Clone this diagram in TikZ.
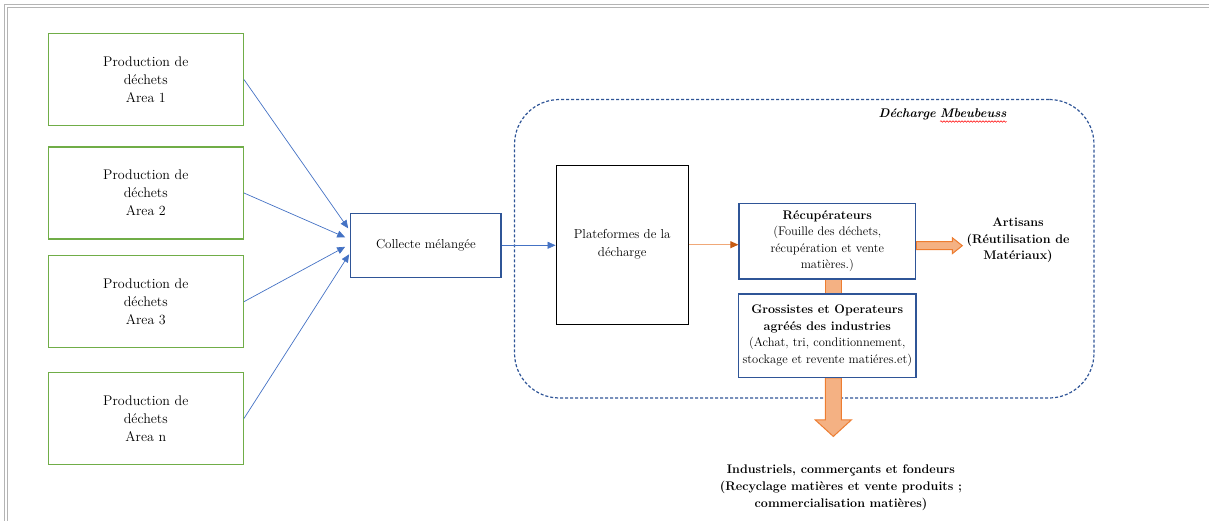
\documentclass[tikz,border=0pt]{standalone}
\usetikzlibrary{arrows.meta,decorations.pathmorphing,backgrounds,calc}

\definecolor{prodgreen}{HTML}{70AD47}
\definecolor{boxblue}{HTML}{2F5597}
\definecolor{flowblue}{HTML}{4472C4}
\definecolor{orfill}{HTML}{F4B183}
\definecolor{orline}{HTML}{ED7D31}
\definecolor{ordark}{HTML}{C55A11}
\definecolor{orthin}{HTML}{F0A878}
\definecolor{pagegray}{HTML}{B4B4B4}

\tikzset{
  basefont/.style={font=\fontsize{12.5}{16.5}\selectfont},
  boldtxt/.style={font=\fontsize{12.5}{16.5}\selectfont\bfseries, align=center},
  prodbox/.style={draw=prodgreen, line width=1.3pt, minimum width=195pt,
    minimum height=92pt, align=center, font=\fontsize{14}{18}\selectfont},
  bluebox/.style={draw=boxblue, line width=1.2pt, align=center, inner sep=1pt},
  platbox/.style={draw=black, line width=1.3pt, minimum width=132pt,
    minimum height=159pt, align=center, font=\fontsize{13}{18}\selectfont},
  container/.style={draw=boxblue, line width=1.2pt, dash pattern=on 3pt off 2pt,
    rounded corners=45pt, minimum width=579.5pt, minimum height=298.5pt},
  flow/.style={draw=flowblue, line width=0.7pt, -{Triangle[length=8pt,width=7pt]}},
  orflow/.style={draw=orthin, line width=0.9pt,
    -{Triangle[length=8pt,width=7pt,color=ordark]}},
  blockarrow/.style={fill=orfill, draw=orline, line width=1pt, line join=miter},
  pageline/.style={draw=pagegray, line width=1pt},
  spellwave/.style={draw=red, line width=0.5pt, decorate,
    decoration={snake, amplitude=0.8pt, segment length=3pt}},
}

\begin{document}
\begin{tikzpicture}[x=1pt, y=-1pt, basefont]
\useasboundingbox (0,0) rectangle (1209,521);

% page frame
\draw[pageline] (4.5,521) -- (4.5,4.8) -- (1209,4.8);
\draw[pageline] (7.5,521) -- (7.5,7.6) -- (1209,7.6);

% waste production areas
\node[prodbox] (p1) at (145.8,79.5)  {Production de\\déchets\\Area 1};
\node[prodbox] (p2) at (145.8,193)   {Production de\\déchets\\Area 2};
\node[prodbox] (p3) at (145.8,301.7) {Production de\\déchets\\Area 3};
\node[prodbox] (p4) at (145.8,418.5) {Production de\\déchets\\Area n};

% collection
\node[bluebox, minimum width=150.3pt, minimum height=64pt, font=\fontsize{13}{17}\selectfont]
  (coll) at (425.9,245.3) {Collecte mélangée};

% landfill
\node[platbox] (plat) at (622.2,244.7) {Plateformes de la\\décharge};
\node[bluebox, minimum width=176.7pt, minimum height=75.7pt] (recup) at (827.3,241.2)
  {\textbf{Récupérateurs}\\(Fouille des déchets,\\récupération et vente\\matières.)};
\node[bluebox, minimum width=177.4pt, minimum height=83.3pt] (gross) at (827.3,335.7)
  {\textbf{Grossistes et Operateurs}\\\textbf{agréés des industries}\\(Achat, tri, conditionnement,\\stockage et revente matiéres.et)};

% outlets
\node[boldtxt] (art) at (1018,240.5) {Artisans\\(Réutilisation de\\Matériaux)};
\node[boldtxt, font=\fontsize{12.5}{17}\selectfont\bfseries] (indus) at (841,488)
  {Industriels, commerçants et fondeurs\\(Recyclage matières et vente produits ;\\commercialisation matières)};

% landfill title
\node[inner sep=0pt, anchor=base east, font=\fontsize{12.5}{16.5}\selectfont\bfseries\itshape]
  (dtitle1) at (936,118) {Décharge};
\node[inner sep=0pt, anchor=base west, font=\fontsize{12.5}{16.5}\selectfont\bfseries\itshape]
  (dtitle2) at ([xshift=4pt]dtitle1.base east) {Mbeubeuss};
\draw[spellwave] ([yshift=-3.5pt]dtitle2.base west) -- ([yshift=-3.5pt]dtitle2.base east);

% landfill boundary and material flows
\begin{scope}[on background layer]
  \node[container] (dech) at (804.25,248.75) {};
  \draw[blockarrow] ([xshift=-2pt]recup.south) rectangle ([xshift=14pt]gross.north);
  \draw[blockarrow] ([yshift=-0.5pt]recup.east) -- ++(36,0) -- ++(0,-4) -- ++(10,8)
    -- ++(-10,8) -- ++(0,-4) -- ++(-36,0) -- cycle;
  \draw[blockarrow] ([xshift=-2pt]gross.south) -- ++(16,0) -- ++(0,42) -- ++(10,0)
    -- ++(-18,16.5) -- ++(-18,-16.5) -- ++(10,0) -- cycle;
\end{scope}

% collection flows
\draw[flow] (p1.east) -- ([xshift=-2pt,yshift=17pt]coll.west);
\draw[flow] (p2.east) -- ([xshift=-5pt,yshift=8pt]coll.west);
\draw[flow] (p3.east) -- ([xshift=-5pt,yshift=-1.5pt]coll.west);
\draw[flow] (p4.east) -- ([xshift=-1pt,yshift=-9pt]coll.west);
\draw[flow] (coll.east) -- (coll.east -| plat.west);
\draw[orflow] (plat.east) -- (plat.east -| recup.west);
\end{tikzpicture}
\end{document}
